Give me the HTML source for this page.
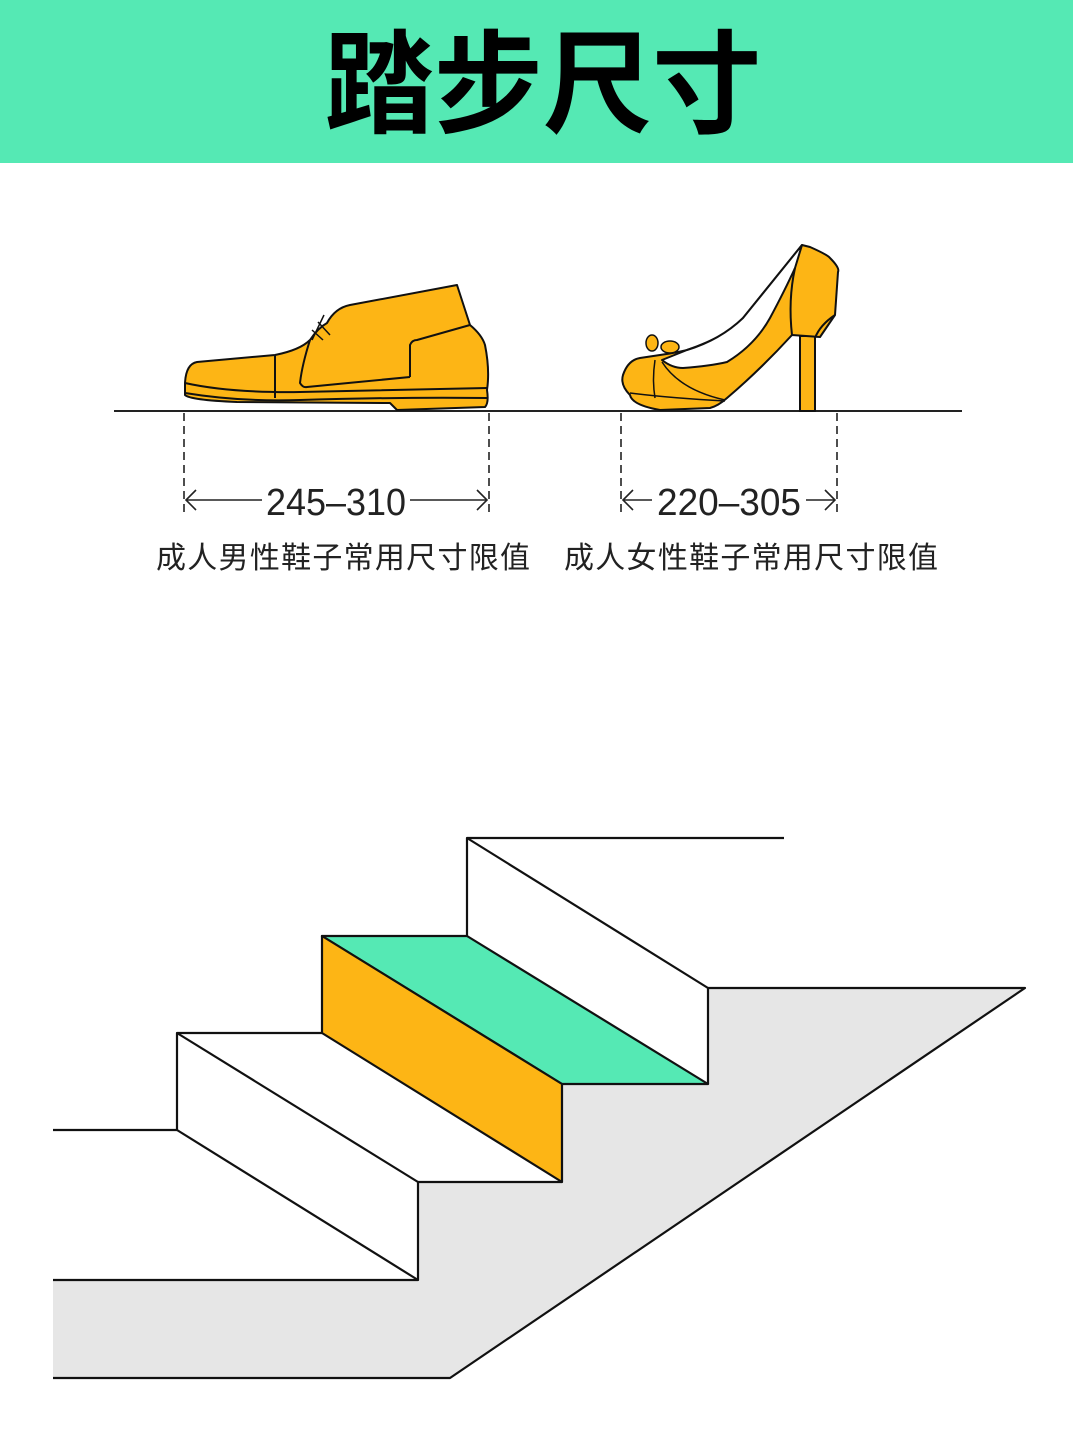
<!DOCTYPE html>
<html><head><meta charset="utf-8"><style>
html,body{margin:0;padding:0;background:#fff;}
svg{display:block;}
</style></head><body>
<svg width="1073" height="1452" viewBox="0 0 1073 1452" xmlns="http://www.w3.org/2000/svg">
<rect x="0" y="0" width="1073" height="163" fill="#55E9B4"/>
<text x="543" y="124" text-anchor="middle" font-family="'Noto Sans CJK SC','WenQuanYi Zen Hei',sans-serif" font-weight="bold" font-size="112" textLength="437" lengthAdjust="spacingAndGlyphs" fill="#000">踏步尺寸</text>

<!-- ground -->
<line x1="114" y1="411" x2="962" y2="411" stroke="#222" stroke-width="2"/>

<!-- men's shoe -->
<g stroke="#111" stroke-width="2" stroke-linejoin="round" fill="#FDB515">
<path d="M185,383 Q186,364 197,362 L275,355 Q300,350 310,340 Q318,328 327,323 Q335,308 350,305 L457,285 L470,325 Q482,335 485,345 Q490,370 487,390 Q489,403 485,407 L397,410 L390,403 L237,402 Q190,400 185,395 Z"/>
<path d="M275,355 L275,398" fill="none"/>
<path d="M310,340 Q302,365 300,383 Q303,388 307,387 L410,377" fill="none"/>
<path d="M410,377 L410,345 Q412,340 417,340 L470,325" fill="none"/>
<path d="M185,383 Q230,393 300,392 L487,388" fill="none"/>
<path d="M185,393 Q240,402 300,400 Q400,397 487,398" fill="none"/>
<path d="M318,322 L330,335 M312,330 L323,340 M324,315 L312,340" fill="none" stroke-width="1.5"/>
</g>

<!-- heel shoe -->
<g stroke="#111" stroke-width="2" stroke-linejoin="round">
<rect x="800" y="336" width="15" height="75" fill="#FDB515"/>
<path d="M623,375 Q628,360 640,358 L660,355 Q680,352 687,350 Q730,335 743,318 L802,245 L810,247 Q828,255 830,258 Q840,268 838,272 L835,315 L820,337 L792,335 Q760,370 727,398 Q718,406 710,408 L660,410 Q632,405 630,395 Q620,385 623,375 Z" fill="#FDB515"/>
<path d="M662,360 Q672,368 683,368 Q710,366 727,362 Q755,345 770,318 Q785,290 795,268 L802,245 L743,318 Q720,340 687,350 Z" fill="#fff"/>
<path d="M795,268 Q788,300 792,335" fill="none"/>
<path d="M835,315 Q820,325 815,338" fill="none"/>
<path d="M655,360 Q652,380 655,398" fill="none" stroke-width="1.5"/>
<path d="M662,362 Q680,390 725,400" fill="none" stroke-width="1.5"/>
<path d="M630,393 Q670,398 725,401" fill="none" stroke-width="1.5"/>
<ellipse cx="652" cy="343" rx="6" ry="8" fill="#FDB515" stroke-width="1.5"/>
<ellipse cx="670" cy="347" rx="9" ry="6" fill="#FDB515" stroke-width="1.5"/>
</g>

<!-- dimension lines -->
<g stroke="#222" stroke-width="1.6" fill="none">
<line x1="184" y1="413" x2="184" y2="512" stroke-dasharray="8,5"/>
<line x1="489" y1="413" x2="489" y2="512" stroke-dasharray="8,5"/>
<line x1="621" y1="413" x2="621" y2="512" stroke-dasharray="8,5"/>
<line x1="837" y1="413" x2="837" y2="512" stroke-dasharray="8,5"/>
<line x1="186" y1="500" x2="262" y2="500"/>
<line x1="410" y1="500" x2="487" y2="500"/>
<path d="M196,490 L186,500 L196,510"/>
<path d="M477,490 L487,500 L477,510"/>
<line x1="623" y1="500" x2="652" y2="500"/>
<line x1="806" y1="500" x2="835" y2="500"/>
<path d="M633,490 L623,500 L633,510"/>
<path d="M825,490 L835,500 L825,510"/>
</g>
<g font-family="'Liberation Sans',sans-serif" font-size="38" fill="#222">
<text x="336" y="515" text-anchor="middle" textLength="140" lengthAdjust="spacingAndGlyphs">245–310</text>
<text x="729" y="515" text-anchor="middle" textLength="144" lengthAdjust="spacingAndGlyphs">220–305</text>
</g>
<g font-family="'Liberation Sans','Noto Sans CJK SC',sans-serif" font-size="30" fill="#222">
<text x="156" y="568" textLength="374" lengthAdjust="spacing">成人男性鞋子常用尺寸限值</text>
<text x="564" y="568" textLength="374" lengthAdjust="spacing">成人女性鞋子常用尺寸限值</text>
</g>

<!-- stairs -->
<g stroke="#111" stroke-width="2.2" stroke-linejoin="round">
<polygon points="53,1280 418,1280 418,1182 562,1182 562,1084 708,1084 708,988 1025,988 450,1378 53,1378" fill="#E6E6E6" stroke="none"/>
<polygon points="322,936 467,936 708,1084 562,1084" fill="#55E9B4"/>
<polygon points="322,936 562,1084 562,1182 322,1033" fill="#FDB515"/>
<polyline points="467,936 467,838 784,838" fill="none"/>
<line x1="467" y1="838" x2="708" y2="988"/>
<polyline points="708,1084 708,988 1025,988 450,1378 53,1378" fill="none"/>
<polyline points="322,1033 177,1033 177,1130 53,1130" fill="none"/>
<line x1="177" y1="1033" x2="418" y2="1182"/>
<line x1="177" y1="1130" x2="418" y2="1280"/>
<polyline points="53,1280 418,1280 418,1182 562,1182" fill="none"/>
</g>
</svg>
</body></html>
